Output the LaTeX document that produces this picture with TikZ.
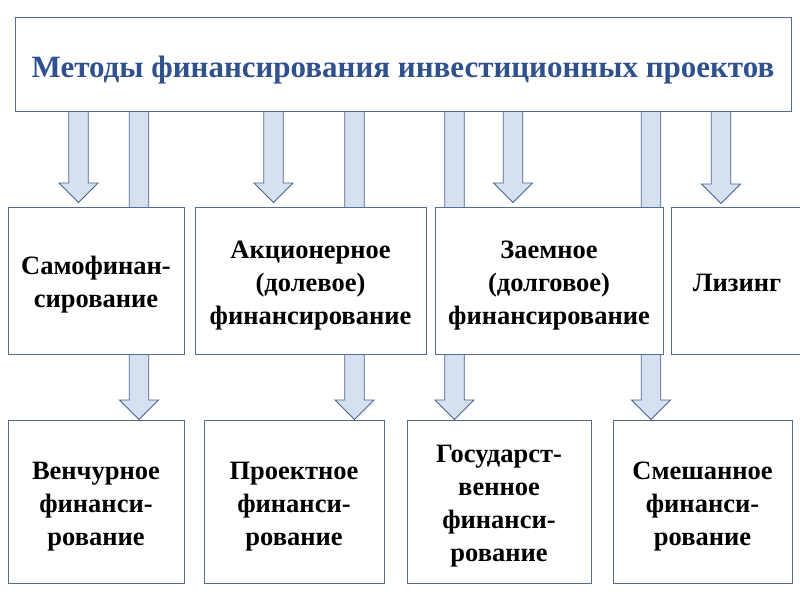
\documentclass[tikz,border=0pt]{standalone}
\usepackage{fontspec}
\setmainfont{Liberation Serif}
\usetikzlibrary{calc}
\definecolor{titleblue}{RGB}{47,82,143}
\definecolor{boxline}{RGB}{84,108,142}
\definecolor{arrowfill}{RGB}{214,224,241}
\definecolor{arrowline}{RGB}{74,100,140}
\pgfdeclarelayer{background}
\pgfsetlayers{background,main}
\newcommand{\topstrut}{\rule{0pt}{30pt}}
\tikzset{
  box/.style={draw=boxline, line width=1pt, fill=white, rectangle, inner sep=0pt,
    align=center, font=\fontsize{26.5}{33}\selectfont\bfseries, text=black,
    execute at end node={\rule[-9pt]{0pt}{9pt}}},
  titlebox/.style={draw=boxline, line width=1pt, fill=white, rectangle, inner sep=0pt,
    align=center, font=\fontsize{31}{36}\selectfont\bfseries, text=titleblue},
  barrow/.style={draw=arrowline, fill=arrowfill, line width=0.9pt, line join=miter}
}
% #1 centre x, #2 start anchor, #3 end anchor, #4 gap above target
\newcommand{\blockarrow}[4]{%
  \begin{pgfonlayer}{background}
  \draw[barrow] let \p1=(#2), \p2=(#3) in
    (#1pt-9.75pt,\y1) -- (#1pt+9.75pt,\y1) -- (#1pt+9.75pt,\y2+#4pt+19.5pt)
    -- (#1pt+19.5pt,\y2+#4pt+19.5pt) -- (#1pt,\y2+#4pt)
    -- (#1pt-19.5pt,\y2+#4pt+19.5pt) -- (#1pt-9.75pt,\y2+#4pt+19.5pt) -- cycle;
  \end{pgfonlayer}}
\begin{document}
\begin{tikzpicture}[x=1pt,y=-1pt]
\clip (0,0) rectangle (800,600);

\node[titlebox, minimum width=776pt, minimum height=94pt, text height=26pt, text depth=0pt] (top) at (403,64)
  {Методы финансирования инвестиционных проектов};

\node[box, minimum width=176pt, minimum height=147pt] (m1) at (96,280.5)
  {\topstrut Самофинан-\\сирование};
\node[box, minimum width=231pt, minimum height=147pt] (m2) at (310.5,280.5)
  {\topstrut Акционерное\\(долевое)\\финансирование};
\node[box, minimum width=228pt, minimum height=147pt] (m3) at (549,280.5)
  {\topstrut Заемное\\(долговое)\\финансирование};
\node[box, minimum width=132pt, minimum height=147pt] (m4) at (737,280.5)
  {\topstrut Лизинг};

\node[box, minimum width=176pt, minimum height=163pt] (b1) at (96,501.5)
  {\topstrut Венчурное\\финанси-\\рование};
\node[box, minimum width=180pt, minimum height=163pt] (b2) at (294,501.5)
  {\topstrut Проектное\\финанси-\\рование};
\node[box, minimum width=184pt, minimum height=163pt] (b3) at (499,501.5)
  {\topstrut Государст-\\венное\\финанси-\\рование};
\node[box, minimum width=179pt, minimum height=163pt] (b4) at (702.5,501.5)
  {\topstrut Смешанное\\финанси-\\рование};

\blockarrow{78.5}{top.south}{m1.north}{4}
\blockarrow{273.5}{top.south}{m2.north}{4}
\blockarrow{513}{top.south}{m3.north}{4}
\blockarrow{721}{top.south}{m4.north}{3}
\blockarrow{139}{top.south}{b1.north}{0}
\blockarrow{354.5}{top.south}{b2.north}{0}
\blockarrow{454.5}{top.south}{b3.north}{0}
\blockarrow{651}{top.south}{b4.north}{0}
\end{tikzpicture}
\end{document}
